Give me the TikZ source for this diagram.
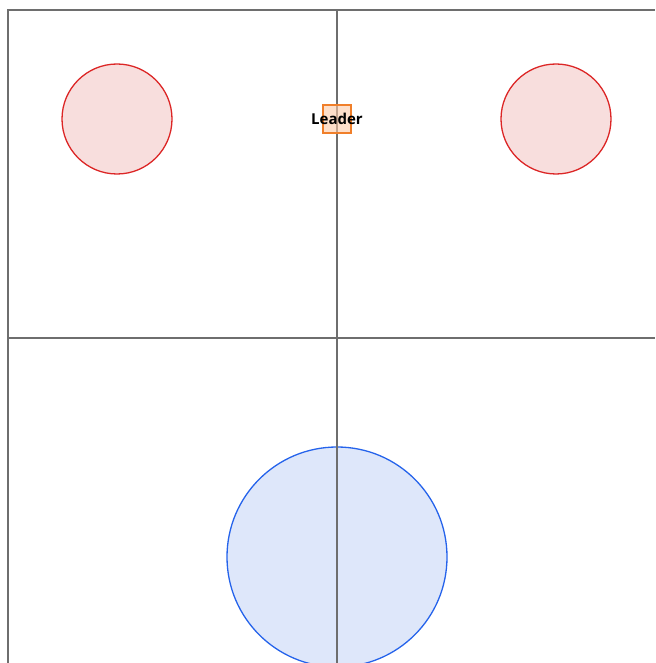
\documentclass[tikz,border=0pt]{standalone}
\usepackage{fontspec}
\setsansfont{Open Sans}
\usetikzlibrary{backgrounds}
\definecolor{gridline}{HTML}{6E6E6E}
\definecolor{foeline}{HTML}{DC2626}
\definecolor{foefill}{HTML}{F8DEDD}
\definecolor{homeline}{HTML}{2563EB}
\definecolor{homefill}{HTML}{DEE7FA}
\definecolor{leadline}{HTML}{F07F2A}
\definecolor{leadfill}{HTML}{FBC9A6}
\tikzset{
  font=\sffamily,
  grid/.style={draw=gridline, line width=1.8pt},
  foe/.style={circle, draw=foeline, fill=foefill, line width=1.3pt,
    minimum size=110pt, inner sep=0pt},
  home/.style={circle, draw=homeline, fill=homefill, line width=1.3pt,
    minimum size=220pt, inner sep=0pt},
  leadbox/.style={draw=leadline, fill=leadfill, fill opacity=.6,
    line width=1.2pt, minimum size=28pt, inner sep=0pt},
  leadtext/.style={font=\sffamily\bfseries\fontsize{15pt}{17pt}\selectfont,
    text=black, inner sep=0pt}
}

\begin{document}
\begin{tikzpicture}[x=1pt,y=-1pt]
  \useasboundingbox (0,0) rectangle (655,663);

  % ------------------------------------------------------------------
  % zones
  \node[foe] (foeA) at (117,119) {};
  \node[foe] (foeB) at (556,119) {};
  \node[home] (base) at (337,557) {};

  % ------------------------------------------------------------------
  % grid
  \coordinate (tl) at (8,10);
  \coordinate (tr) at (655,10);
  \coordinate (bl) at (8,663);
  \coordinate (tm) at (337,10);
  \coordinate (bm) at (337,663);
  \coordinate (ml) at (8,338);
  \coordinate (mr) at (655,338);
  \draw[grid] (bl) -- (tl) -- (tr);
  \draw[grid] (tm) -- (bm);
  \draw[grid] (ml) -- (mr);

  % ------------------------------------------------------------------
  % leader
  \node[leadbox] (lead) at (337,119) {};
  \node[leadtext] (leadlabel) at (lead.center) {Leader};
\end{tikzpicture}
\end{document}
